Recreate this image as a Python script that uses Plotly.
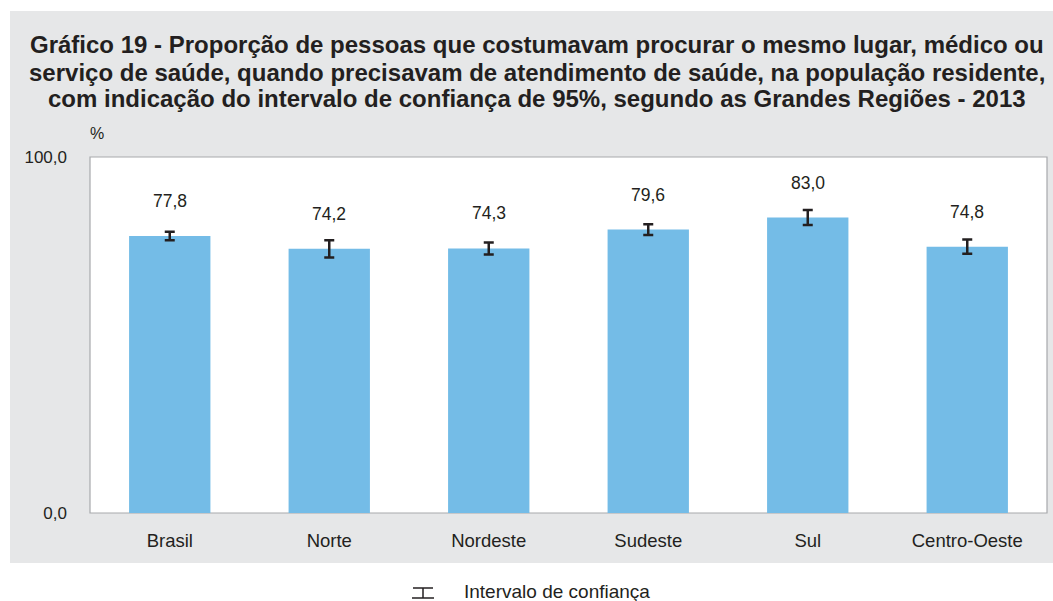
import plotly.graph_objects as go

categories = ["Brasil", "Norte", "Nordeste", "Sudeste", "Sul", "Centro-Oeste"]
values = [77.8, 74.2, 74.3, 79.6, 83.0, 74.8]
ci_half = [1.2, 2.4, 1.7, 1.5, 2.1, 2.0]
value_labels = ["77,8", "74,2", "74,3", "79,6", "83,0", "74,8"]
y_ticks = [0, 100]
y_tick_labels = ["0,0", "100,0"]

title_lines = [
    "Gráfico 19 - Proporção de pessoas que costumavam procurar o mesmo lugar, médico ou",
    "serviço de saúde, quando precisavam de atendimento de saúde, na população residente,",
    "com indicação do intervalo de confiança de 95%, segundo as Grandes Regiões - 2013",
]

FONT = "Liberation Sans"
TXT = "#231F20"

# plot area in pixels: x 90..1047, y 157..513
PL, PR, PT, PB = 90, 1047, 157, 513
PW, PH = PR - PL, PB - PT


def px(x):
    return (x - PL) / PW


def py(y):
    return (PB - y) / PH


fig = go.Figure()
fig.add_trace(go.Bar(
    x=categories, y=values,
    marker=dict(color="#74BCE7", line=dict(width=0)),
    width=0.51,
    error_y=dict(type="data", array=ci_half, visible=True,
                 color="#231F20", thickness=2.5, width=5),
    showlegend=False, hoverinfo="x+y",
))

for c, v, lab in zip(categories, values, value_labels):
    fig.add_annotation(x=c, y=v, text=lab, showarrow=False, yshift=35,
                       font=dict(family=FONT, size=17.5, color=TXT))

# gray background panel
fig.add_shape(type="rect", xref="paper", yref="paper",
              x0=px(10), x1=px(1060), y0=py(563), y1=py(11),
              fillcolor="#E6E7E8", line=dict(width=0), layer="below")
# white plot area with border
fig.add_shape(type="rect", xref="paper", yref="paper", x0=0, x1=1, y0=0, y1=1,
              fillcolor="white", line=dict(color="#A7A9AC", width=1.2), layer="below")

# title (three lines)
for line, yc in zip(title_lines, [45, 72, 99]):
    fig.add_annotation(xref="paper", yref="paper", x=px(537), y=py(yc),
                       text="<b>" + line + "</b>", showarrow=False,
                       font=dict(family=FONT, size=24, color=TXT),
                       xanchor="center", yanchor="middle")

# "%" unit label
fig.add_annotation(xref="paper", yref="paper", x=px(97), y=py(133),
                   text="%", showarrow=False, font=dict(family=FONT, size=16, color=TXT),
                   xanchor="center", yanchor="middle")

# legend: error bar symbol + text below panel
ly = 593
sx = 423
for x0, y0, x1, y1 in [(sx - 10, ly - 5, sx + 10, ly - 5),
                       (sx, ly - 5, sx, ly + 5),
                       (sx - 11, ly + 5, sx + 11, ly + 5)]:
    fig.add_shape(type="line", xref="paper", yref="paper",
                  x0=px(x0), y0=py(y0), x1=px(x1), y1=py(y1),
                  line=dict(color="#231F20", width=1.5))
fig.add_annotation(xref="paper", yref="paper", x=px(462), y=py(591),
                   text="Intervalo de confiança", showarrow=False, xanchor="left", yanchor="middle",
                   font=dict(family=FONT, size=19, color=TXT))

fig.update_layout(
    width=1053, height=601,
    margin=dict(l=PL, r=1053 - PR, t=PT, b=601 - PB),
    paper_bgcolor="white", plot_bgcolor="rgba(0,0,0,0)",
    xaxis=dict(showgrid=False, zeroline=False, showline=False, ticks="",
               tickfont=dict(family=FONT, size=18.5, color=TXT), ticklabelstandoff=14),
    yaxis=dict(range=[0, 100], tickvals=y_ticks, ticktext=y_tick_labels,
               showgrid=False, zeroline=False, showline=False, ticks="",
               tickfont=dict(family=FONT, size=17, color=TXT), ticklabelstandoff=22),
    showlegend=False,
)

fig.write_html("out.html", config={"displayModeBar": False},
               post_script="document.body.style.margin='0';")
